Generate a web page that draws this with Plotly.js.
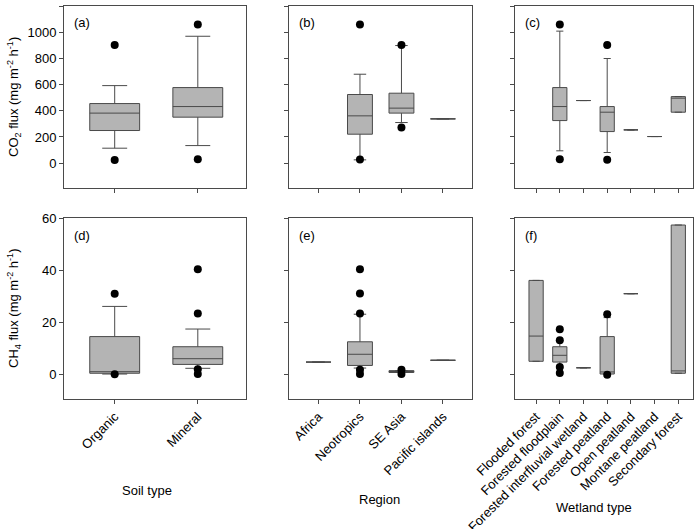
<!DOCTYPE html>
<html>
<head>
<meta charset="utf-8">
<script src="https://cdn.plot.ly/plotly-3.0.1.min.js"></script>
<style>
  html, body { margin: 0; padding: 0; background: #fff; }
  #chart { width: 700px; height: 529px; }
</style>
</head>
<body>
<div id="chart"></div>
<script>
// ---- categories ------------------------------------------------------
const soilTypes = ['Organic', 'Mineral'];
const regions = ['Africa', 'Neotropics', 'SE Asia', 'Pacific islands'];
const wetlands = ['Flooded forest', 'Forested floodplain', 'Forested interfluvial wetland',
  'Forested peatland', 'Open peatland', 'Montane peatland', 'Secondary forest'];

// ---- CO2 flux (mg m-2 h-1), box statistics ------------------------------
const co2SoilX = ['Organic', 'Mineral'];
const co2SoilQ1 = [249, 351];
const co2SoilMed = [382, 432];
const co2SoilQ3 = [455, 577];
const co2SoilLo = [114, 134];
const co2SoilHi = [592, 969];
const co2SoilOutX = ['Organic', 'Organic', 'Mineral', 'Mineral'];
const co2SoilOutY = [903, 23, 1058, 30];

const co2RegionX = ['Neotropics', 'SE Asia', 'Pacific islands'];
const co2RegionQ1 = [221, 382, 338];
const co2RegionMed = [361, 420, 338];
const co2RegionQ3 = [524, 534, 338];
const co2RegionLo = [25, 310, 338];
const co2RegionHi = [679, 898, 338];
const co2RegionOutX = ['Neotropics', 'Neotropics', 'SE Asia', 'SE Asia'];
const co2RegionOutY = [1058, 28, 903, 272];

const co2WetX = ['Forested floodplain', 'Forested interfluvial wetland', 'Forested peatland',
  'Open peatland', 'Montane peatland', 'Secondary forest'];
const co2WetQ1 = [325, 478, 241, 254, 203, 389];
const co2WetMed = [432, 478, 389, 254, 203, 496];
const co2WetQ3 = [577, 478, 432, 254, 203, 508];
const co2WetLo = [94, 478, 81, 254, 203, 389];
const co2WetHi = [1008, 478, 799, 254, 203, 508];
const co2WetOutX = ['Forested floodplain', 'Forested floodplain', 'Forested peatland', 'Forested peatland'];
const co2WetOutY = [1058, 30, 903, 25];

// ---- CH4 flux (mg m-2 h-1) --------------------------------------------
const ch4SoilX = ['Organic', 'Mineral'];
const ch4SoilQ1 = [0.3, 3.7];
const ch4SoilMed = [0.9, 5.9];
const ch4SoilQ3 = [14.4, 10.5];
const ch4SoilLo = [0, 2.2];
const ch4SoilHi = [26.0, 17.3];
const ch4SoilOutX = ['Organic', 'Organic', 'Mineral', 'Mineral', 'Mineral', 'Mineral'];
const ch4SoilOutY = [30.9, -0.1, 40.3, 23.3, 1.8, 0];

const ch4RegionX = ['Africa', 'Neotropics', 'SE Asia', 'Pacific islands'];
const ch4RegionQ1 = [4.6, 3.3, 0.6, 5.3];
const ch4RegionMed = [4.6, 7.6, 1.0, 5.3];
const ch4RegionQ3 = [4.6, 12.4, 1.3, 5.3];
const ch4RegionLo = [4.6, 2.3, 0.6, 5.3];
const ch4RegionHi = [4.6, 23.0, 1.3, 5.3];
const ch4RegionOutX = ['Neotropics', 'Neotropics', 'Neotropics', 'Neotropics', 'Neotropics', 'SE Asia', 'SE Asia'];
const ch4RegionOutY = [40.3, 31.0, 23.3, 1.6, 0, 1.6, 0];

const ch4WetX = ['Flooded forest', 'Forested floodplain', 'Forested interfluvial wetland',
  'Forested peatland', 'Open peatland', 'Secondary forest'];
const ch4WetQ1 = [4.9, 4.6, 2.4, 0, 30.9, 0.3];
const ch4WetMed = [14.6, 7.2, 2.4, 0.8, 30.9, 1.2];
const ch4WetQ3 = [36.0, 10.5, 2.4, 14.4, 30.9, 57.3];
const ch4WetLo = [4.9, 2.6, 2.4, 0, 30.9, 0.3];
const ch4WetHi = [36.0, 12.8, 2.4, 21.7, 30.9, 57.3];
const ch4WetOutX = ['Forested floodplain', 'Forested floodplain', 'Forested floodplain', 'Forested floodplain',
  'Forested peatland', 'Forested peatland'];
const ch4WetOutY = [17.2, 13.0, 2.7, 0.4, 23.0, -0.3];

const co2Ticks = [0, 200, 400, 600, 800, 1000, 1200];
const ch4Ticks = [0, 20, 40, 60];

// ---- styling ----------------------------------------------------------
const FONT = 'Liberation Sans, Arial, sans-serif';
const FRAME = '#4a4a4a';
const BOXFILL = '#b4b4b4';
const W = 700, H = 529;

const box = (n, x, q1, median, q3, lowerfence, upperfence) => ({
  type: 'box', xaxis: 'x' + n, yaxis: 'y' + n,
  x, q1, median, q3, lowerfence, upperfence,
  width: 0.6, whiskerwidth: 0.5, boxpoints: false,
  fillcolor: BOXFILL, line: { color: FRAME, width: 1 },
  hoverinfo: 'skip', showlegend: false,
});
const dots = (n, x, y) => ({
  type: 'scatter', mode: 'markers', xaxis: 'x' + n, yaxis: 'y' + n,
  x, y, marker: { color: '#000', size: 8 },
  hoverinfo: 'skip', showlegend: false,
});

const traces = [
  box('', co2SoilX, co2SoilQ1, co2SoilMed, co2SoilQ3, co2SoilLo, co2SoilHi),
  dots('', co2SoilOutX, co2SoilOutY),
  box(2, co2RegionX, co2RegionQ1, co2RegionMed, co2RegionQ3, co2RegionLo, co2RegionHi),
  dots(2, co2RegionOutX, co2RegionOutY),
  box(3, co2WetX, co2WetQ1, co2WetMed, co2WetQ3, co2WetLo, co2WetHi),
  dots(3, co2WetOutX, co2WetOutY),
  box(4, ch4SoilX, ch4SoilQ1, ch4SoilMed, ch4SoilQ3, ch4SoilLo, ch4SoilHi),
  dots(4, ch4SoilOutX, ch4SoilOutY),
  box(5, ch4RegionX, ch4RegionQ1, ch4RegionMed, ch4RegionQ3, ch4RegionLo, ch4RegionHi),
  dots(5, ch4RegionOutX, ch4RegionOutY),
  box(6, ch4WetX, ch4WetQ1, ch4WetMed, ch4WetQ3, ch4WetLo, ch4WetHi),
  dots(6, ch4WetOutX, ch4WetOutY),
];

// pixel frames of the six panels
const cols = [[64, 246], [289, 472], [515, 693]];
const rows = [[6, 188], [218, 399]];
const xRanges = [[-0.61, 1.58], [-0.71, 3.70], [-0.89, 6.62]];
const cats = [soilTypes, regions, wetlands];

const axisBase = {
  showline: true, mirror: true, linecolor: FRAME, linewidth: 1,
  showgrid: false, zeroline: false, ticks: 'outside', ticklen: 4,
  tickcolor: FRAME, automargin: false,
  tickfont: { family: FONT, size: 13, color: '#000' },
};

const layout = {
  width: W, height: H, autosize: false,
  margin: { l: 0, r: 0, t: 0, b: 0 },
  paper_bgcolor: '#fff', plot_bgcolor: '#fff',
  font: { family: FONT, size: 13, color: '#000' },
  showlegend: false,
  annotations: [],
};

for (let r = 0; r < 2; r++) {
  for (let c = 0; c < 3; c++) {
    const n = r * 3 + c + 1;
    const k = n === 1 ? '' : n;
    layout['xaxis' + k] = {
      ...axisBase,
      domain: [cols[c][0] / W, cols[c][1] / W],
      anchor: 'y' + k,
      type: 'category', categoryorder: 'array', categoryarray: cats[c],
      tickmode: 'array', tickvals: cats[c],
      range: xRanges[c],
      showticklabels: r === 1, tickangle: -45,
    };
    layout['yaxis' + k] = {
      ...axisBase,
      domain: [1 - rows[r][1] / H, 1 - rows[r][0] / H],
      anchor: 'x' + k,
      range: r === 0 ? [-190, 1200] : [-9.6, 60],
      tickmode: 'array', tickvals: r === 0 ? co2Ticks : ch4Ticks,
      showticklabels: c === 0,
    };
    layout.annotations.push({
      xref: 'paper', yref: 'paper', showarrow: false,
      x: (cols[c][0] + 8) / W, y: 1 - (rows[r][0] + 17) / H,
      xanchor: 'left', yanchor: 'middle',
      text: '(' + 'abcdef'[n - 1] + ')', font: { family: FONT, size: 13 },
    });
  }
}

const paperText = (px, py, text, angle) => ({
  xref: 'paper', yref: 'paper', showarrow: false,
  x: px / W, y: 1 - py / H, xanchor: 'center', yanchor: 'middle',
  text, textangle: angle || 0, font: { family: FONT, size: 13 },
});
layout.annotations.push(
  paperText(14, 97, 'CO<sub>2</sub> flux (mg m<sup>-2</sup> h<sup>-1</sup>)', -90),
  paperText(14, 308, 'CH<sub>4</sub> flux (mg m<sup>-2</sup> h<sup>-1</sup>)', -90),
  paperText(147, 490, 'Soil type'),
  paperText(380, 499, 'Region'),
  paperText(594, 507, 'Wetland type'),
);

Plotly.newPlot('chart', traces, layout, { displayModeBar: false, staticPlot: true });
</script>
</body>
</html>
